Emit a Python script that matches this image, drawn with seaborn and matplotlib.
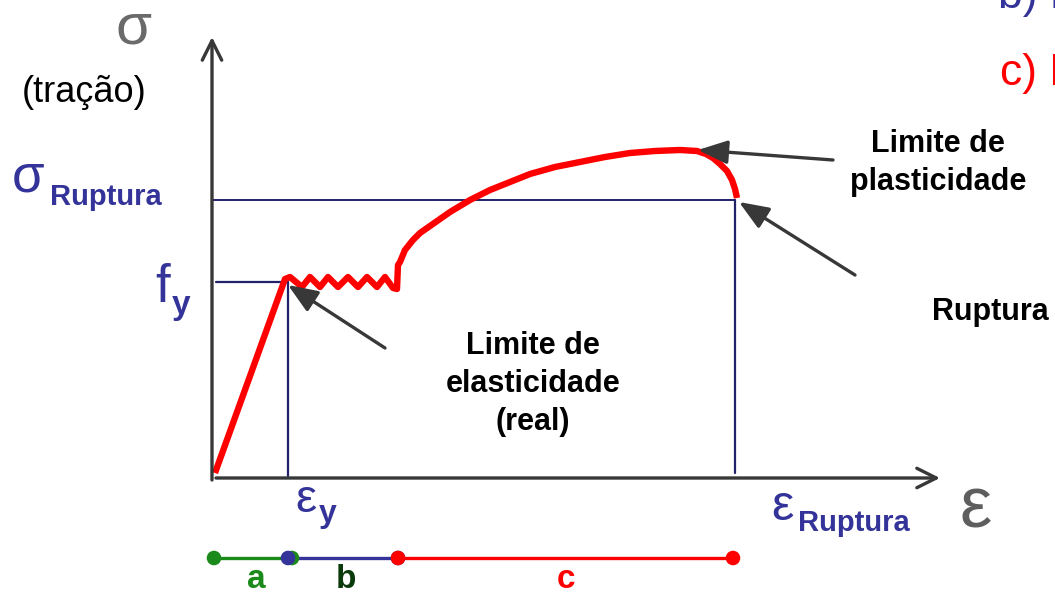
import matplotlib
matplotlib.use("Agg")
import matplotlib.pyplot as plt
import seaborn as sns
import pandas as pd

# stress-strain curve (strain / stress in drawing units,
# origin at the corner of the axes)
ELASTIC_STRAIN = [3, 73]
ELASTIC_STRESS = [5, 199]

PLATEAU_STRAIN = [78, 90, 98, 108, 116, 126, 136, 146, 155, 165, 173, 181, 185, 186]
PLATEAU_STRESS = [201, 191, 201, 191, 201, 191, 201, 191, 201, 191, 201, 190, 189, 213]

HARDENING_STRAIN = [188, 193, 201, 208, 218, 238, 258, 278, 298, 318, 343, 368,
                    393, 418, 443, 468, 485, 494, 501, 508, 515, 520, 523, 525]
HARDENING_STRESS = [216, 228, 238, 245, 252, 266, 278, 288, 296, 304, 311, 316,
                    321, 325, 327, 328, 327, 324, 320, 314, 307, 298, 289, 280]

# characteristic values
FY = 196
EPS_Y = 76
SIGMA_RUPTURA = 278
EPS_RUPTURA = 523

# ranges a / b / c below the axis
RANGE_NAMES = ["a", "b", "c"]
RANGE_START = [2, 76, 186]
RANGE_END = [80, 186, 521]
RANGE_LEVEL = -80

RED = "#ff0000"
NAVY = "#22226a"
BLUE_TXT = "#333399"
AXIS_GRAY = "#383838"
RANGE_COLORS = ["#1a8a1a", "#333399", RED]
LABEL_COLORS = ["#1a8a1a", "#0b3a0b", RED]


def px(x, y):
    # position given in picture pixels -> drawing units
    return x - 212, 478 - y


sns.set_theme(style="white")
plt.rcParams["font.family"] = ["Liberation Sans", "DejaVu Sans"]

fig = plt.figure(figsize=(10.55, 5.95), dpi=100)
ax = fig.add_axes([0, 0, 1, 1])
ax.set_xlim(-212, 843)
ax.set_ylim(-117, 478)
ax.axis("off")

# axes with open arrow heads
axis_props = dict(arrowstyle="->,head_length=0.7,head_width=0.35", color=AXIS_GRAY,
                  lw=2.4, mutation_scale=20, shrinkA=0, shrinkB=0)
ax.annotate("", xy=(0, 441), xytext=(0, -2), arrowprops=axis_props)
ax.annotate("", xy=(728, 0), xytext=(4, 0), arrowprops=axis_props)

# guide lines
ax.plot([4, EPS_Y], [FY, FY], color=NAVY, lw=1.6)
ax.plot([EPS_Y, EPS_Y], [2, FY], color=NAVY, lw=1.6)
ax.plot([0, EPS_RUPTURA], [SIGMA_RUPTURA, SIGMA_RUPTURA], color=NAVY, lw=1.4)
ax.plot([EPS_RUPTURA, EPS_RUPTURA], [5, SIGMA_RUPTURA], color=NAVY, lw=1.6)

curve = pd.DataFrame({
    "strain": ELASTIC_STRAIN + PLATEAU_STRAIN + HARDENING_STRAIN,
    "stress": ELASTIC_STRESS + PLATEAU_STRESS + HARDENING_STRESS,
})
sns.lineplot(data=curve, x="strain", y="stress", sort=False, estimator=None,
             color=RED, linewidth=4.6, solid_joinstyle="round",
             solid_capstyle="butt", ax=ax)

# annotation arrows
arrow_props = dict(arrowstyle="-|>,head_length=0.9,head_width=0.36", color=AXIS_GRAY,
                   lw=2.4, mutation_scale=20, shrinkA=0, shrinkB=0)
ax.annotate("", xy=(76, 193), xytext=(173, 130), arrowprops=arrow_props)
ax.annotate("", xy=(486, 328), xytext=(621, 318), arrowprops=arrow_props)
ax.annotate("", xy=(527, 276), xytext=(643, 203), arrowprops=arrow_props)

# ranges a, b, c
for name, x0, x1, col, lcol in zip(RANGE_NAMES, RANGE_START, RANGE_END,
                                   RANGE_COLORS, LABEL_COLORS):
    seg = pd.DataFrame({"strain": [x0, x1], "level": [RANGE_LEVEL, RANGE_LEVEL]})
    sns.lineplot(data=seg, x="strain", y="level", color=col, linewidth=2.4,
                 ax=ax, estimator=None)
    sns.scatterplot(data=seg, x="strain", y="level", color=col, s=110,
                    edgecolor="none", ax=ax, zorder=3)
    ax.text((x0 + x1) / 2 + (3 if name != "c" else 0), px(0, 588)[1], name,
            color=lcol, fontsize=24, fontweight="bold", ha="center", va="baseline")

ax.set_xlabel("")
ax.set_ylabel("")

# symbols and labels
ax.text(*px(116, 44), "σ", color="#6a6a6a", fontsize=42, va="baseline")
ax.text(*px(960, 528), "ε", color="#5e5e5e", fontsize=52, va="baseline")
ax.text(*px(22, 102), "(tração)", color="black", fontsize=26, va="baseline")

ax.text(*px(12, 191), "σ", color=BLUE_TXT, fontsize=38, va="baseline")
ax.text(*px(50, 205), "Ruptura", color=BLUE_TXT, fontsize=21,
        fontweight="bold", va="baseline")

ax.text(*px(155, 302), "f", color=BLUE_TXT, fontsize=38, va="baseline")
ax.text(*px(172, 314), "y", color=BLUE_TXT, fontsize=24, fontweight="bold",
        va="baseline")

ax.text(*px(295, 512), "ε", color=BLUE_TXT, fontsize=34, va="baseline")
ax.text(*px(319, 522), "y", color=BLUE_TXT, fontsize=23, fontweight="bold",
        va="baseline")

ax.text(*px(771, 520), "ε", color=BLUE_TXT, fontsize=36, va="baseline")
ax.text(*px(798, 531), "Ruptura", color=BLUE_TXT, fontsize=21,
        fontweight="bold", va="baseline")

ax.text(*px(533, 384), "Limite de\nelasticidade\n(real)", fontsize=22,
        fontweight="bold", ha="center", va="center", linespacing=1.34, color="black")
ax.text(*px(938, 163), "Limite de\nplasticidade", fontsize=22,
        fontweight="bold", ha="center", va="center", linespacing=1.34, color="black")
ax.text(*px(932, 312), "Ruptura", fontsize=22, fontweight="bold",
        va="center", color="black")

ax.text(*px(998, 8), "b) E", color=BLUE_TXT, fontsize=32, va="baseline", clip_on=True)
ax.text(*px(1000, 85), "c) E", color=RED, fontsize=32, va="baseline", clip_on=True)

fig.savefig("out.png", dpi=100)
